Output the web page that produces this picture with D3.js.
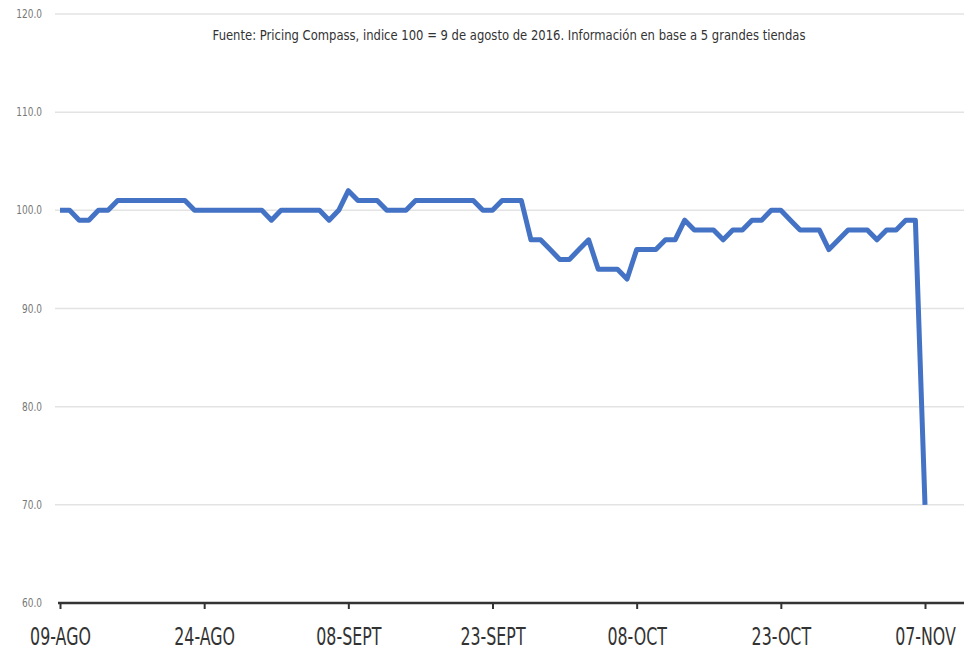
<!DOCTYPE html>
<html>
  <head>
    <script src="https://d3js.org/d3.v7.min.js" charset="utf-8"></script>
    <meta charset="UTF-8">
    <title>indice de precios</title>
    <style>
     body { margin: 0; background: #fff; }
     .grid line { stroke: #e3e3e3; stroke-width: 1.5; }
     .ylab { font-family: "DejaVu Sans", sans-serif; font-size: 12.5px; fill: #777; }
     .xlab { font-family: "DejaVu Sans", sans-serif; font-size: 24px; fill: #333; }
     .sub { font-family: "DejaVu Sans", sans-serif; font-size: 13.5px; fill: #333; }
    </style>
  </head>
  <body>
    <svg class="chart"></svg>
    <script type="text/javascript">

     var width = 964,
         height = 651;

     // dias desde el 9 de agosto de 2016
     var days = d3.range(0, 91);
     var values = [100, 100, 99, 99, 100, 100, 101, 101, 101, 101,
                   101, 101, 101, 101, 100, 100, 100, 100, 100, 100,
                   100, 100, 99, 100, 100, 100, 100, 100, 99, 100,
                   102, 101, 101, 101, 100, 100, 100, 101, 101, 101,
                   101, 101, 101, 101, 100, 100, 101, 101, 101, 97,
                   97, 96, 95, 95, 96, 97, 94, 94, 94, 93,
                   96, 96, 96, 97, 97, 99, 98, 98, 98, 97,
                   98, 98, 99, 99, 100, 100, 99, 98, 98, 98,
                   96, 97, 98, 98, 98, 97, 98, 98, 99, 99,
                   70];
     var tickDays = [0, 15, 30, 45, 60, 75, 90];
     var tickLabels = ["09-AGO", "24-AGO", "08-SEPT", "23-SEPT", "08-OCT", "23-OCT", "07-NOV"];
     var yTicks = [60, 70, 80, 90, 100, 110, 120];
     var subtitle = "Fuente: Pricing Compass, indice 100 = 9 de agosto de 2016. Información en base a 5 grandes tiendas";

     var x = d3.scaleLinear().domain([0, 90]).range([60, 925]);
     var y = d3.scaleLinear().domain([60, 120]).range([603, 14]);

     var chart = d3.select(".chart")
                   .attr("width", width)
                   .attr("height", height);

     chart.append("g")
          .attr("class", "grid")
          .selectAll("line")
          .data(yTicks.filter(function(d) { return d > 60; }))
          .enter().append("line")
          .attr("x1", 55)
          .attr("x2", width)
          .attr("y1", function(d) { return y(d); })
          .attr("y2", function(d) { return y(d); });

     // etiquetas del eje y, angostas
     chart.append("g")
          .selectAll("text")
          .data(yTicks)
          .enter().append("text")
          .attr("class", "ylab")
          .attr("transform", function(d) { return "translate(42," + (y(d) + 4) + ") scale(0.72,1)"; })
          .attr("text-anchor", "end")
          .text(function(d) { return d3.format(".1f")(d); });

     var xAxis = chart.append("g")
                      .attr("transform", "translate(0," + y(60) + ")")
                      .call(d3.axisBottom(x)
                              .tickValues(tickDays)
                              .tickSize(6)
                              .tickFormat(function(d, i) { return tickLabels[i]; }));
     xAxis.select(".domain")
          .attr("d", "M" + (x(0) - 2) + ",0H" + width)
          .attr("stroke", "#333")
          .attr("stroke-width", 2.5);
     xAxis.selectAll(".tick line")
          .attr("stroke", "#333")
          .attr("stroke-width", 2);
     xAxis.selectAll(".tick text")
          .attr("class", "xlab")
          .attr("y", null)
          .attr("dy", null)
          .attr("transform", "translate(0,42) scale(0.66,1)");

     chart.append("text")
          .attr("class", "sub")
          .attr("transform", "translate(509,40) scale(0.86,1)")
          .attr("text-anchor", "middle")
          .text(subtitle);

     var line = d3.line()
                  .x(function(d, i) { return x(days[i]); })
                  .y(function(d) { return y(d); });

     chart.append("path")
          .datum(values)
          .attr("d", line)
          .attr("fill", "none")
          .attr("stroke", "#4472c4")
          .attr("stroke-width", 5)
          .attr("stroke-linejoin", "round");

    </script>
  </body>
</html>
